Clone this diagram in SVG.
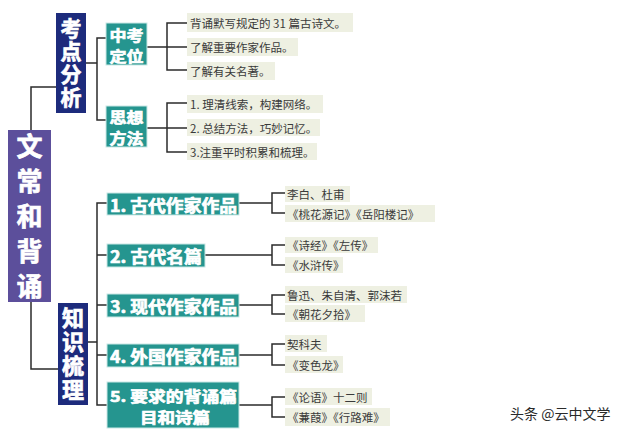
<svg xmlns="http://www.w3.org/2000/svg" width="640" height="434" viewBox="0 0 640 434">
<style>
.bg{fill:#ffffff}
.navy{fill:#1d2b7c}
.teal{fill:#25958f;stroke:#c9e8e5;stroke-width:1}
.purple{fill:#5c4f9b}
.bt{font-family:"Noto Sans CJK SC","Noto Sans",sans-serif;font-weight:700;fill:#ffffff;stroke:#ffffff;stroke-width:0.7;dominant-baseline:central}
.vt{text-anchor:middle}
.vert{font-family:"Noto Sans CJK SC","Noto Sans",sans-serif;font-weight:700;fill:#ffffff;stroke:#ffffff;stroke-width:0.7;writing-mode:vertical-rl;text-anchor:middle}
.item{fill:#eef0e2}
.it{font-family:"Noto Sans CJK SC","Noto Sans",sans-serif;font-size:11.5px;fill:#3a3a3a;dominant-baseline:central}
.ln{fill:none;stroke:#2b2b2b;stroke-width:1.5}
.wm{font-family:"Noto Sans CJK SC","Noto Sans",sans-serif;font-size:14px;fill:#2a2a2a;dominant-baseline:central}
</style>
<rect class="bg" x="0" y="0" width="640" height="434"/>

<g id="connectors">
  <path class="ln" d="M31,130 V87 H56"/>
  <path class="ln" d="M31,302 V369 H58"/>
  <path class="ln" d="M86,63 H97 M106,38 H97 V120 H106"/>
  <path class="ln" d="M147,47 H167 M187,23 H167 V70 H187 M167,47 H187"/>
  <path class="ln" d="M147,128 H167 M187,103 H167 V152 H187 M167,128 H187"/>
  <path class="ln" d="M88,342 H97 M107,203 H97 V405 H107 M97,255 H107 M97,305 H107 M97,355 H107"/>
  <path class="ln" d="M239,203 H272 M285,193 H272 V213 H285"/>
  <path class="ln" d="M205,255 H272 M285,245 H272 V265 H285"/>
  <path class="ln" d="M239,305 H272 M285,295 H272 V314 H285"/>
  <path class="ln" d="M239,355 H272 M285,344 H272 V365 H285"/>
  <path class="ln" d="M239,405 H272 M285,397 H272 V417 H285"/>
</g>

<g id="root">
  <rect class="purple" x="8" y="130" width="43" height="172"/>
  <text class="vert" x="29.5" y="220.5" font-size="26" letter-spacing="9">文常和背诵</text>
</g>

<g id="kaodian">
  <rect class="navy" x="56" y="13" width="30" height="100"/>
  <text class="vert" x="71" y="63.5" font-size="21" letter-spacing="2">考点分析</text>
</g>

<g id="zhongkao">
  <rect class="teal" x="106" y="23" width="41" height="42"/>
  <text class="bt" x="109.5" y="34" font-size="14.4" textLength="34" lengthAdjust="spacingAndGlyphs">中考</text>
  <text class="bt" x="109.5" y="55" font-size="14.4" textLength="34" lengthAdjust="spacingAndGlyphs">定位</text>
</g>

<g id="sixiang">
  <rect class="teal" x="106" y="106" width="41" height="41"/>
  <text class="bt" x="109.5" y="116.5" font-size="14.4" textLength="34" lengthAdjust="spacingAndGlyphs">思想</text>
  <text class="bt" x="109.5" y="137.5" font-size="14.4" textLength="34" lengthAdjust="spacingAndGlyphs">方法</text>
</g>

<g id="zhishi">
  <rect class="navy" x="58" y="303" width="30" height="102"/>
  <text class="vert" x="73" y="355" font-size="22" letter-spacing="2">知识梳理</text>
</g>

<g id="items-zhongkao">
  <rect class="item" x="187" y="13" width="166" height="19"/>
  <text class="it" x="190" y="22.5">背诵默写规定的 31 篇古诗文。</text>
  <rect class="item" x="187" y="38" width="111" height="18"/>
  <text class="it" x="190" y="47">了解重要作家作品。</text>
  <rect class="item" x="187" y="62" width="88" height="18"/>
  <text class="it" x="190" y="71">了解有关名著。</text>
</g>

<g id="items-sixiang">
  <rect class="item" x="187" y="95" width="136" height="18"/>
  <text class="it" x="190" y="104">1. 理清线索，构建网络。</text>
  <rect class="item" x="187" y="119" width="133" height="17"/>
  <text class="it" x="190" y="127.5">2. 总结方法，巧妙记忆。</text>
  <rect class="item" x="187" y="143" width="130" height="17"/>
  <text class="it" x="190" y="151.5">3.注重平时积累和梳理。</text>
</g>

<g id="b1">
  <rect class="teal" x="107" y="193" width="132" height="22"/>
  <text class="bt" x="110" y="204" font-size="17" textLength="127" lengthAdjust="spacingAndGlyphs">1. 古代作家作品</text>
</g>
<g id="b2">
  <rect class="teal" x="107" y="244" width="98" height="23"/>
  <text class="bt" x="110" y="255.5" font-size="17" textLength="92" lengthAdjust="spacingAndGlyphs">2. 古代名篇</text>
</g>
<g id="b3">
  <rect class="teal" x="107" y="294" width="132" height="23"/>
  <text class="bt" x="110" y="305.5" font-size="17" textLength="127" lengthAdjust="spacingAndGlyphs">3. 现代作家作品</text>
</g>
<g id="b4">
  <rect class="teal" x="107" y="344" width="132" height="23"/>
  <text class="bt" x="110" y="355.5" font-size="17" textLength="127" lengthAdjust="spacingAndGlyphs">4. 外国作家作品</text>
</g>
<g id="b5">
  <rect class="teal" x="107" y="382" width="132" height="46"/>
  <text class="bt" x="110" y="395" font-size="15" textLength="127" lengthAdjust="spacingAndGlyphs">5. 要求的背诵篇</text>
  <text class="bt" x="140" y="416.8" font-size="15" textLength="70" lengthAdjust="spacingAndGlyphs">目和诗篇</text>
</g>

<g id="items-b1">
  <rect class="item" x="285" y="186" width="65" height="16"/>
  <text class="it" x="287" y="194">李白、杜甫</text>
  <rect class="item" x="285" y="205" width="150" height="17"/>
  <text class="it" x="287" y="213.5">《桃花源记》《岳阳楼记》</text>
</g>
<g id="items-b2">
  <rect class="item" x="285" y="237" width="93" height="16"/>
  <text class="it" x="287" y="245">《诗经》《左传》</text>
  <rect class="item" x="285" y="257" width="58" height="16"/>
  <text class="it" x="287" y="265">《水浒传》</text>
</g>
<g id="items-b3">
  <rect class="item" x="285" y="286" width="122" height="17"/>
  <text class="it" x="287" y="294.5">鲁迅、朱自清、郭沫若</text>
  <rect class="item" x="285" y="305" width="80" height="17"/>
  <text class="it" x="287" y="313.5">《朝花夕拾》</text>
</g>
<g id="items-b4">
  <rect class="item" x="285" y="335" width="42" height="17"/>
  <text class="it" x="287" y="343.5">契科夫</text>
  <rect class="item" x="285" y="356" width="58" height="17"/>
  <text class="it" x="287" y="364.5">《变色龙》</text>
</g>
<g id="items-b5">
  <rect class="item" x="285" y="388" width="87" height="17"/>
  <text class="it" x="287" y="396.5">《论语》十二则</text>
  <rect class="item" x="285" y="408" width="105" height="18"/>
  <text class="it" x="287" y="417">《蒹葭》《行路难》</text>
</g>

<text class="wm" x="510" y="413">头条 @云中文学</text>
</svg>
